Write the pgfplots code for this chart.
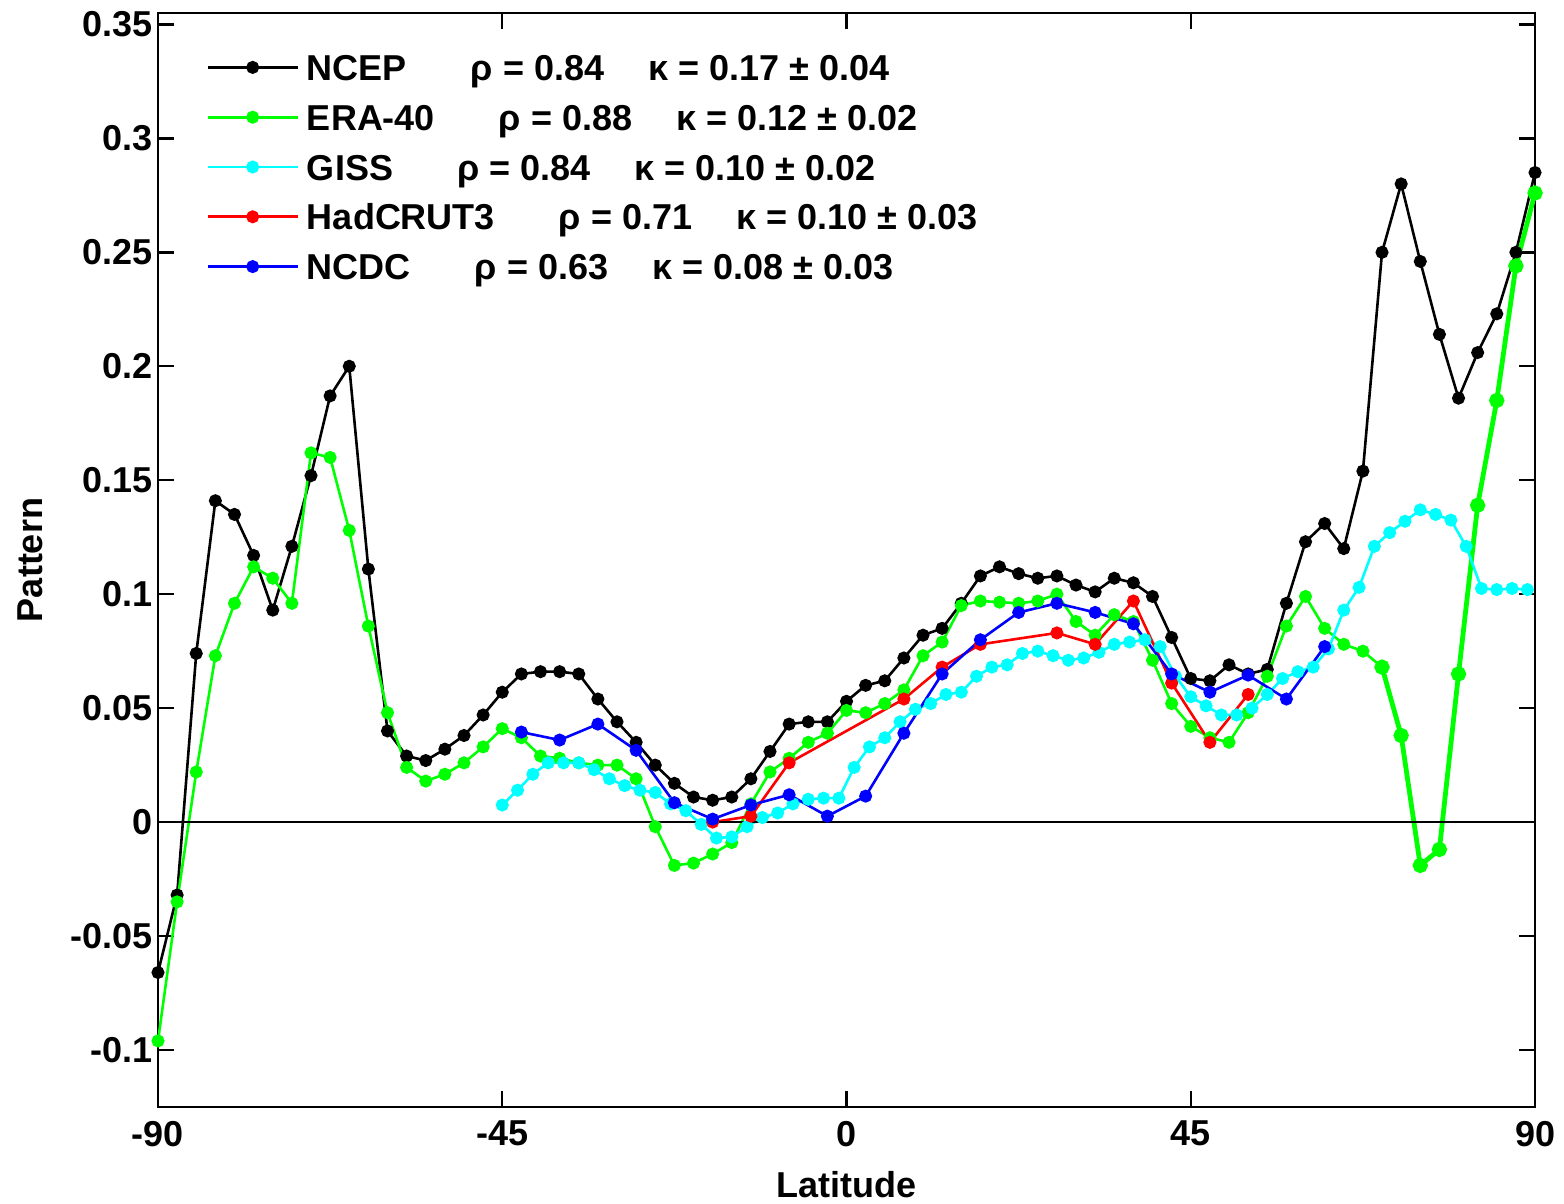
\documentclass[border=0pt]{standalone}
\usepackage{fontspec}
\setmainfont{Liberation Sans}
\usepackage{pgfplots}
\pgfplotsset{compat=1.18}
\definecolor{mcyan}{rgb}{0,1,1}
\definecolor{mgreen}{rgb}{0,1,0}
\definecolor{mred}{rgb}{1,0,0}
\definecolor{mblue}{rgb}{0,0,1}
\begin{document}
\begin{tikzpicture}
\path[use as bounding box] (-79pt,-48.5pt) rectangle (703pt,553.5pt);
\begin{axis}[
  at={(0pt,0pt)}, anchor=south west,
  scale only axis, width=688.5pt, height=547pt,
  xmin=-90, xmax=90, ymin=-0.125, ymax=0.355,
  xtick={-90,-45,0,45,90},
  xticklabels={-90,-45,0,45,90},
  ytick={-0.1,-0.05,0,0.05,0.1,0.15,0.2,0.25,0.3,0.35},
  yticklabels={-0.1,-0.05,0,0.05,0.1,0.15,0.2,0.25,0.3,0.35},
  tick align=inside, tick pos=both, major tick length=8pt,
  axis line style={line width=1.2pt},
  every tick/.style={line width=1.2pt, black},
  font=\bfseries\fontsize{18}{21}\selectfont,
  ticklabel style={font=\bfseries\fontsize{18}{21}\selectfont},
  /pgf/number format/assume math mode=true,
  xticklabel style={yshift=-3.5pt},
  yticklabel style={xshift=1pt},
  xlabel={Latitude}, ylabel={Pattern},
  xlabel style={at={(axis description cs:0.5,0)}, anchor=center, yshift=-39pt},
  ylabel style={at={(axis description cs:-0.093,0.5)}, anchor=center},
  legend style={at={(0,1)}, anchor=north west, xshift=24pt, yshift=-20.5pt,
    draw=none, fill=none, inner sep=0pt, row sep=7.9pt, column sep=4pt,
    nodes={inner sep=0pt, text height=13pt, text depth=4pt, anchor=base west},
    font=\bfseries\fontsize{18}{21}\selectfont},
  legend cell align=left,
  legend image code/.code={\draw[mark repeat=2,mark phase=2] plot coordinates {(0pt,6.5pt) (22.5pt,6.5pt) (45pt,6.5pt)};},
  every axis plot/.append style={line width=1.3pt, mark=*, mark size=2.6pt, mark options={solid}},
]
% NCEP
\addplot[black] coordinates {
(-90,-0.066) (-87.5,-0.032) (-85,0.074) (-82.5,0.141) (-80,0.135) (-77.5,0.117) (-75,0.093)
(-72.5,0.121) (-70,0.152) (-67.5,0.187) (-65,0.200) (-62.5,0.111) (-60,0.040) (-57.5,0.029)
(-55,0.027) (-52.5,0.032) (-50,0.038) (-47.5,0.047) (-45,0.057) (-42.5,0.065) (-40,0.066)
(-37.5,0.066) (-35,0.065) (-32.5,0.054) (-30,0.044) (-27.5,0.035) (-25,0.025) (-22.5,0.017)
(-20,0.011) (-17.5,0.0096) (-15,0.011) (-12.5,0.019) (-10,0.031) (-7.5,0.043) (-5,0.044)
(-2.5,0.044) (0,0.053) (2.5,0.060) (5,0.062) (7.5,0.072) (10,0.082) (12.5,0.085) (15,0.096)
(17.5,0.108) (20,0.112) (22.5,0.109) (25,0.107) (27.5,0.108) (30,0.104) (32.5,0.101)
(35,0.107) (37.5,0.105) (40,0.099) (42.5,0.081) (45,0.063) (47.5,0.062) (50,0.069)
(52.5,0.065) (55,0.067) (57.5,0.096) (60,0.123) (62.5,0.131) (65,0.120) (67.5,0.154)
(70,0.250) (72.5,0.280) (75,0.246) (77.5,0.214) (80,0.186) (82.5,0.206) (85,0.223)
(87.5,0.250) (90,0.285)};
\addlegendentry{NCEP\hspace{32pt}ρ = 0.84\hspace{22pt}κ = 0.17 ± 0.04}
% ERA-40
\addplot[mgreen] coordinates {
(-90,-0.096) (-87.5,-0.035) (-85,0.022) (-82.5,0.073) (-80,0.096) (-77.5,0.112) (-75,0.107)
(-72.5,0.096) (-70,0.162) (-67.5,0.160) (-65,0.128) (-62.5,0.086) (-60,0.048) (-57.5,0.024)
(-55,0.018) (-52.5,0.021) (-50,0.026) (-47.5,0.033) (-45,0.041) (-42.5,0.037) (-40,0.029)
(-37.5,0.028) (-35,0.026) (-32.5,0.025) (-30,0.025) (-27.5,0.019) (-25,-0.002) (-22.5,-0.019)
(-20,-0.018) (-17.5,-0.014) (-15,-0.009) (-12.5,0.008) (-10,0.022) (-7.5,0.028) (-5,0.035)
(-2.5,0.039) (0,0.049) (2.5,0.048) (5,0.052) (7.5,0.058) (10,0.073) (12.5,0.079) (15,0.095)
(17.5,0.097) (20,0.0965) (22.5,0.096) (25,0.097) (27.5,0.100) (30,0.088) (32.5,0.082)
(35,0.091) (37.5,0.088) (40,0.071) (42.5,0.052) (45,0.042) (47.5,0.037) (50,0.035)
(52.5,0.048) (55,0.064) (57.5,0.086) (60,0.099) (62.5,0.085) (65,0.078) (67.5,0.075)
(70,0.068) (72.5,0.038) (75,-0.019) (77.5,-0.012) (80,0.065) (82.5,0.139) (85,0.185)
(87.5,0.244) (90,0.276)};
\addlegendentry{ERA-40\hspace{32pt}ρ = 0.88\hspace{22pt}κ = 0.12 ± 0.02}
\addplot[mgreen, line width=2.4pt, forget plot] coordinates {
(70,0.068) (72.5,0.038) (75,-0.019) (77.5,-0.012) (80,0.065) (82.5,0.139) (85,0.185)
(87.5,0.244) (90,0.276)};
% GISS
\addplot[mcyan] coordinates {
(-45,0.0075) (-43,0.014) (-41,0.021) (-39,0.026) (-37,0.026) (-35,0.026) (-33,0.023)
(-31,0.019) (-29,0.016) (-27,0.014) (-25,0.013) (-23,0.008) (-21,0.005) (-19,-0.001)
(-17,-0.007) (-15,-0.0065) (-13,-0.002) (-11,0.002) (-9,0.004) (-7,0.008) (-5,0.010)
(-3,0.0105) (-1,0.0105) (1,0.024) (3,0.033) (5,0.037) (7,0.044) (9,0.0495) (11,0.052)
(13,0.056) (15,0.057) (17,0.064) (19,0.068) (21,0.069) (23,0.074) (25,0.075) (27,0.073)
(29,0.071) (31,0.072) (33,0.0745) (35,0.078) (37,0.079) (39,0.080) (41,0.077) (43,0.064)
(45,0.055) (47,0.051) (49,0.047) (51,0.047) (53,0.050) (55,0.056) (57,0.063) (59,0.066)
(61,0.068) (63,0.076) (65,0.093) (67,0.103) (69,0.121) (71,0.127) (73,0.132) (75,0.137)
(77,0.135) (79,0.1325) (81,0.121) (83,0.1025) (85,0.102) (87,0.1025) (89,0.102)};
\addlegendentry{GISS\hspace{32pt}ρ = 0.84\hspace{22pt}κ = 0.10 ± 0.02}
% HadCRUT3
\addplot[mred] coordinates {
(-17.5,0.000) (-12.5,0.0026) (-7.5,0.026) (7.5,0.054) (12.5,0.068) (17.5,0.078)
(27.5,0.083) (32.5,0.078) (37.5,0.097) (42.5,0.061) (47.5,0.035) (52.5,0.056)};
\addlegendentry{HadCRUT3\hspace{32pt}ρ = 0.71\hspace{22pt}κ = 0.10 ± 0.03}
% NCDC
\addplot[mblue] coordinates {
(-42.5,0.0395) (-37.5,0.036) (-32.5,0.043) (-27.5,0.0315) (-22.5,0.0085) (-17.5,0.0013)
(-12.5,0.0075) (-7.5,0.012) (-2.5,0.0026) (2.5,0.0114) (7.5,0.039) (12.5,0.065)
(17.5,0.080) (22.5,0.092) (27.5,0.096) (32.5,0.092) (37.5,0.087) (42.5,0.065)
(47.5,0.057) (52.5,0.0645) (57.5,0.054) (62.5,0.077)};
\addlegendentry{NCDC\hspace{32pt}ρ = 0.63\hspace{22pt}κ = 0.08 ± 0.03}
% zero line
\addplot[black, line width=1.1pt, mark=none, forget plot] coordinates {(-90,0) (90,0)};
\end{axis}
\end{tikzpicture}
\end{document}
